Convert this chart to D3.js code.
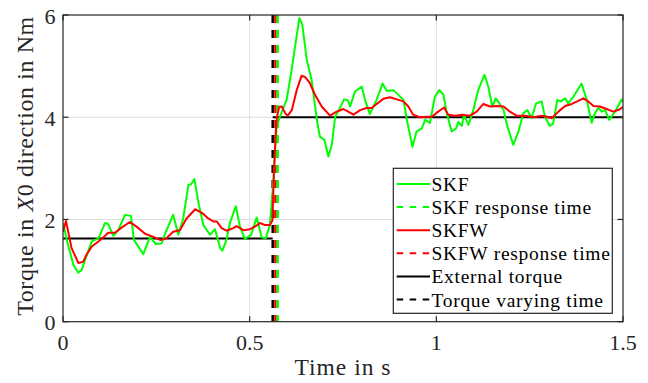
<!DOCTYPE html>
<html><head><meta charset="utf-8">
<script src="https://cdn.jsdelivr.net/npm/d3@7"></script>
</head>
<body style="margin:0"><svg id="c" width="648" height="383" font-family="Liberation Serif"></svg>
<script>
// ---- data ----
const skfT = [0.000,0.012,0.028,0.041,0.050,0.059,0.077,0.095,0.1125,0.121,0.135,0.148,0.166,0.182,0.190,0.215,0.233,0.249,0.264,0.275,0.295,0.309,0.322,0.336,0.343,0.352,0.363,0.376,0.394,0.407,0.421,0.427,0.438,0.447,0.463,0.474,0.487,0.504,0.519,0.532,0.543,0.554,0.562,0.572,0.581,0.599,0.611,0.623,0.633,0.641,0.653,0.666,0.680,0.688,0.700,0.711,0.720,0.729,0.739,0.753,0.763,0.769,0.782,0.800,0.809,0.822,0.840,0.856,0.867,0.885,0.912,0.921,0.936,0.947,0.961,0.970,0.983,0.996,1.008,1.019,1.028,1.041,1.053,1.059,1.068,1.074,1.086,1.099,1.112,1.129,1.139,1.150,1.159,1.169,1.180,1.188,1.206,1.220,1.233,1.244,1.255,1.267,1.282,1.291,1.304,1.313,1.324,1.333,1.345,1.353,1.367,1.389,1.403,1.416,1.425,1.434,1.443,1.452,1.463,1.476,1.497,1.500];
const skfV = [1.93,1.55,1.11,0.96,1.01,1.21,1.57,1.63,1.93,1.91,1.68,1.79,2.09,2.07,1.60,1.32,1.66,1.52,1.53,1.75,2.09,1.70,2.02,2.68,2.69,2.79,2.32,1.89,1.70,1.81,1.44,1.39,1.60,1.93,2.26,1.86,1.62,1.70,2.04,1.65,1.63,1.89,2.60,3.80,4.01,4.34,4.86,5.45,5.94,5.81,5.12,4.73,3.95,3.62,3.56,3.23,3.46,4.01,4.14,4.35,4.33,4.21,4.50,4.60,4.34,4.06,4.34,4.66,4.52,4.53,4.34,3.95,3.42,3.72,3.78,3.95,3.89,4.40,4.53,4.44,4.08,3.72,3.78,3.91,3.83,4.04,3.85,4.14,4.53,4.83,4.60,4.21,4.37,4.27,4.14,3.88,3.46,3.72,4.08,4.14,3.98,4.27,4.31,4.01,3.83,3.88,4.34,4.31,4.37,4.27,4.40,4.66,4.34,3.89,4.08,4.18,4.11,4.14,3.95,4.08,4.35,4.30];
const skfwT = [0.000,0.008,0.023,0.041,0.054,0.063,0.077,0.095,0.108,0.121,0.139,0.157,0.179,0.197,0.220,0.242,0.260,0.275,0.295,0.313,0.331,0.354,0.372,0.389,0.403,0.412,0.425,0.438,0.456,0.465,0.483,0.501,0.516,0.528,0.541,0.554,0.561,0.565,0.569,0.573,0.579,0.586,0.595,0.602,0.613,0.626,0.639,0.648,0.661,0.675,0.693,0.715,0.733,0.751,0.764,0.778,0.796,0.813,0.827,0.840,0.858,0.876,0.894,0.912,0.925,0.938,0.956,0.974,0.988,1.005,1.021,1.032,1.050,1.068,1.090,1.108,1.126,1.144,1.162,1.180,1.197,1.215,1.238,1.260,1.282,1.296,1.309,1.327,1.345,1.363,1.380,1.394,1.407,1.421,1.438,1.456,1.474,1.487,1.500];
const skfwV = [1.76,1.97,1.44,1.15,1.17,1.31,1.47,1.57,1.65,1.74,1.74,1.84,1.95,1.86,1.72,1.66,1.60,1.62,1.76,1.79,2.02,2.20,2.13,2.02,1.96,1.96,1.83,1.78,1.83,1.87,1.79,1.81,1.87,1.93,1.89,1.89,1.98,2.90,3.60,4.00,4.20,4.21,4.08,4.03,4.14,4.53,4.81,4.79,4.67,4.44,4.21,4.03,4.11,4.16,4.11,4.05,4.14,4.18,4.18,4.26,4.36,4.39,4.35,4.31,4.21,4.05,4.00,4.01,4.01,4.11,4.19,4.05,4.03,4.05,4.03,4.11,4.26,4.21,4.22,4.21,4.11,4.03,4.03,4.00,4.03,4.01,3.98,4.11,4.22,4.26,4.32,4.37,4.31,4.22,4.21,4.16,4.11,4.14,4.20];
const extT = [0, 0.5617, 0.5617, 1.5];
const extV = [1.63, 1.63, 4.0, 4.0];
const extSeg = [0, 0, 1, 1];
const torqueVaryingTime = 0.5617;
const skfResponseTime = 0.575;
const skfwResponseTime = 0.569;
const xTicks = [0, 0.5, 1, 1.5];
const yTicks = [0, 2, 4, 6];
const legendLabels = ["SKF","SKF response time","SKFW","SKFW response time","External torque","Torque varying time"];

// ---- drawing ----
const FONT = "Liberation Serif";
const svg = d3.select("#c");
const L = 63, R = 623, T = 15, B = 321.7;
const x = d3.scaleLinear().domain([0,1.5]).range([L,R]);
const y = d3.scaleLinear().domain([0,6]).range([B,T]);
const axisCol = "#262626";

svg.append("defs").append("clipPath").attr("id","clip")
  .append("rect").attr("x",L).attr("y",T).attr("width",R-L).attr("height",B-T);

// grid
const g = svg.append("g");
g.selectAll(".gx").data(xTicks.slice(1,-1)).join("line")
  .attr("x1",d=>x(d)).attr("x2",d=>x(d)).attr("y1",T).attr("y2",B)
  .attr("stroke","#dedede").attr("stroke-width",1);
g.selectAll(".gy").data(yTicks.slice(1,-1)).join("line")
  .attr("y1",d=>y(d)).attr("y2",d=>y(d)).attr("x1",L).attr("x2",R)
  .attr("stroke","#dedede").attr("stroke-width",1);

const plot = svg.append("g").attr("clip-path","url(#clip)");
const line = d3.line().x(d=>x(d[0])).y(d=>y(d[1]));

// external torque (two horizontal pieces)
const ext = extT.map((t,i)=>[t,extV[i],extSeg[i]]);
[0,1].forEach(s=>{
  plot.append("path").datum(ext.filter(d=>d[2]===s)).attr("d",line)
    .attr("fill","none").attr("stroke","#000").attr("stroke-width",2);
});

// vertical dashed lines
const vlines = [[torqueVaryingTime,"#000"],[skfwResponseTime,"#ff0000"],[skfResponseTime,"#00ff00"]];
plot.selectAll(".vl").data(vlines).join("line")
  .attr("x1",d=>x(d[0])).attr("x2",d=>x(d[0])).attr("y1",y(6)).attr("y2",y(0))
  .attr("stroke",d=>d[1]).attr("stroke-width",2.5).attr("stroke-dasharray","8,7");

// series
plot.append("path").datum(skfT.map((t,i)=>[t,skfV[i]])).attr("d",line)
  .attr("fill","none").attr("stroke","#00ff00").attr("stroke-width",2).attr("stroke-linejoin","round");
plot.append("path").datum(skfwT.map((t,i)=>[t,skfwV[i]])).attr("d",line)
  .attr("fill","none").attr("stroke","#ff0000").attr("stroke-width",2).attr("stroke-linejoin","round");

// axes box and ticks
svg.append("rect").attr("x",L).attr("y",T).attr("width",R-L).attr("height",B-T)
  .attr("fill","none").attr("stroke",axisCol).attr("stroke-width",1.2);
const tk = svg.append("g").attr("stroke",axisCol).attr("stroke-width",1.2);
xTicks.forEach(d=>{
  tk.append("line").attr("x1",x(d)).attr("x2",x(d)).attr("y1",B).attr("y2",B-5.5);
  tk.append("line").attr("x1",x(d)).attr("x2",x(d)).attr("y1",T).attr("y2",T+5.5);
});
yTicks.forEach(d=>{
  tk.append("line").attr("x1",L).attr("x2",L+5.5).attr("y1",y(d)).attr("y2",y(d));
  tk.append("line").attr("x1",R).attr("x2",R-5.5).attr("y1",y(d)).attr("y2",y(d));
});

// tick labels
svg.selectAll(".xl").data(xTicks).join("text")
  .attr("x",d=>x(d)).attr("y",350).attr("text-anchor","middle")
  .attr("font-family",FONT).attr("font-size",22).attr("fill",axisCol).text(d=>d3.format("")(d));
svg.selectAll(".yl").data(yTicks).join("text")
  .attr("x",55.5).attr("y",d=>y(d)+8.5).attr("text-anchor","end")
  .attr("font-family",FONT).attr("font-size",22).attr("fill",axisCol).text(d=>d);

// axis titles
svg.append("text").attr("x",(L+R)/2).attr("y",375).attr("text-anchor","middle")
  .attr("font-family",FONT).attr("font-size",23.5).attr("letter-spacing",1)
  .attr("fill",axisCol).text("Time in s");
const yt = svg.append("text").attr("transform",`translate(33,166) rotate(-90)`)
  .attr("text-anchor","middle").attr("font-family",FONT).attr("font-size",24)
  .attr("letter-spacing",0.6).attr("fill",axisCol);
yt.append("tspan").text("Torque in ");
yt.append("tspan").attr("font-style","italic").text("X");
yt.append("tspan").text("0 direction in Nm");

// legend
const lg = svg.append("g");
lg.append("rect").attr("x",393.3).attr("y",168.3).attr("width",219).attr("height",145)
  .attr("fill","#fff").attr("stroke",axisCol).attr("stroke-width",1.2);
const legStyles = [["#00ff00",null],["#00ff00","6.5,6.5"],["#ff0000",null],["#ff0000","6.5,6.5"],["#000",null],["#000","6.5,6.5"]];
legendLabels.forEach((lab,i)=>{
  const cy = 184 + i*23.1;
  lg.append("line").attr("x1",396.7).attr("x2",430).attr("y1",cy).attr("y2",cy)
    .attr("stroke",legStyles[i][0]).attr("stroke-width",2)
    .attr("stroke-dasharray",legStyles[i][1]);
  lg.append("text").attr("x",431.5).attr("y",cy+7)
    .attr("font-family",FONT).attr("font-size",19.5).attr("letter-spacing",0.7)
    .attr("fill","#000").text(lab);
});
</script></body></html>
